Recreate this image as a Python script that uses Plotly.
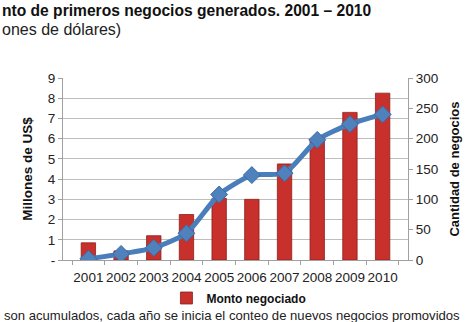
import plotly.graph_objects as go

years = ["2001", "2002", "2003", "2004", "2005", "2006", "2007", "2008", "2009", "2010"]
monto = [0.85, 0.45, 1.2, 2.25, 3.05, 3.0, 4.75, 6.0, 7.3, 8.25]
cantidad = [2, 10, 20, 44, 108, 140, 143, 198, 224, 240]
left_ticks = [0, 1, 2, 3, 4, 5, 6, 7, 8, 9]
left_labels = ["-", "1", "2", "3", "4", "5", "6", "7", "8", "9"]
right_ticks = [0, 50, 100, 150, 200, 250, 300]

FONT = "Liberation Sans, Arial, sans-serif"

fig = go.Figure()
fig.add_trace(go.Bar(
    x=years, y=monto, name="<b>Monto negociado</b>",
    marker=dict(color="#C8302C", line=dict(color="#8E1E1C", width=0.8)),
    width=0.44, yaxis="y", showlegend=True,
))
fig.add_trace(go.Scatter(
    x=years, y=cantidad, name="Cantidad",
    mode="lines+markers", yaxis="y2",
    line=dict(color="#4A7EBB", width=5, shape="spline", smoothing=0.6),
    marker=dict(symbol="diamond", size=13, color="#4F81BD", line=dict(color="#3A6AA6", width=1)),
    showlegend=False,
))

fig.update_layout(
    width=471, height=322,
    margin=dict(l=63, r=63, t=78, b=62, autoexpand=False),
    paper_bgcolor="white", plot_bgcolor="white",
    font=dict(family=FONT, size=13, color="#222"),
    bargap=0.5,
    xaxis=dict(
        type="category", showgrid=False, showline=True, linecolor="#A0A0A0",
        ticks="outside", ticklen=4, tickcolor="#A0A0A0", tickson="boundaries",
        tickangle=0, tickfont=dict(size=13.5, color="#222"), ticklabelstandoff=5,
        automargin=False,
    ),
    yaxis=dict(
        range=[0, 9], tickvals=left_ticks, ticktext=left_labels,
        showgrid=True, gridcolor="#BEBEBE", gridwidth=1,
        showline=True, linecolor="#A0A0A0", ticks="outside", ticklen=4, tickcolor="#A0A0A0",
        tickfont=dict(size=13.5, color="#222"), zeroline=False, automargin=False,
        title=dict(text="<b>Millones de US$</b>", font=dict(size=13.5, color="#111"), standoff=12),
    ),
    yaxis2=dict(
        range=[0, 300], tickvals=right_ticks, overlaying="y", side="right",
        showgrid=False, showline=True, linecolor="#A0A0A0", ticks="outside", ticklen=4,
        tickcolor="#A0A0A0", tickfont=dict(size=13.5, color="#222"), zeroline=False, automargin=False,
        title=dict(text="<b>Cantidad de negocios</b>", font=dict(size=13, color="#111"), standoff=12),
    ),
    legend=dict(
        orientation="h", x=0.51, xanchor="center",
        yref="container", y=(322-298)/322, yanchor="middle",
        font=dict(size=12, color="#111"), itemwidth=30, tracegroupgap=0,
    ),
)

fig.add_annotation(
    text="<b>nto de primeros negocios generados. 2001 – 2010</b>",
    xref="paper", yref="paper", x=-63/345, xanchor="left", y=(260-10)/182, yanchor="middle",
    showarrow=False, font=dict(size=15.6, color="#111"),
)
fig.add_annotation(
    text="ones de dólares)",
    xref="paper", yref="paper", x=-63/345, xanchor="left", y=(260-29)/182, yanchor="middle",
    showarrow=False, font=dict(size=16, color="#222"),
)
fig.add_annotation(
    text="son acumulados, cada año se inicia el conteo de nuevos negocios promovidos",
    xref="paper", yref="paper", x=-61/345, xanchor="left", y=(260-315)/182, yanchor="middle",
    showarrow=False, font=dict(size=13.1, color="#222"),
)

fig.write_html("out.html")
